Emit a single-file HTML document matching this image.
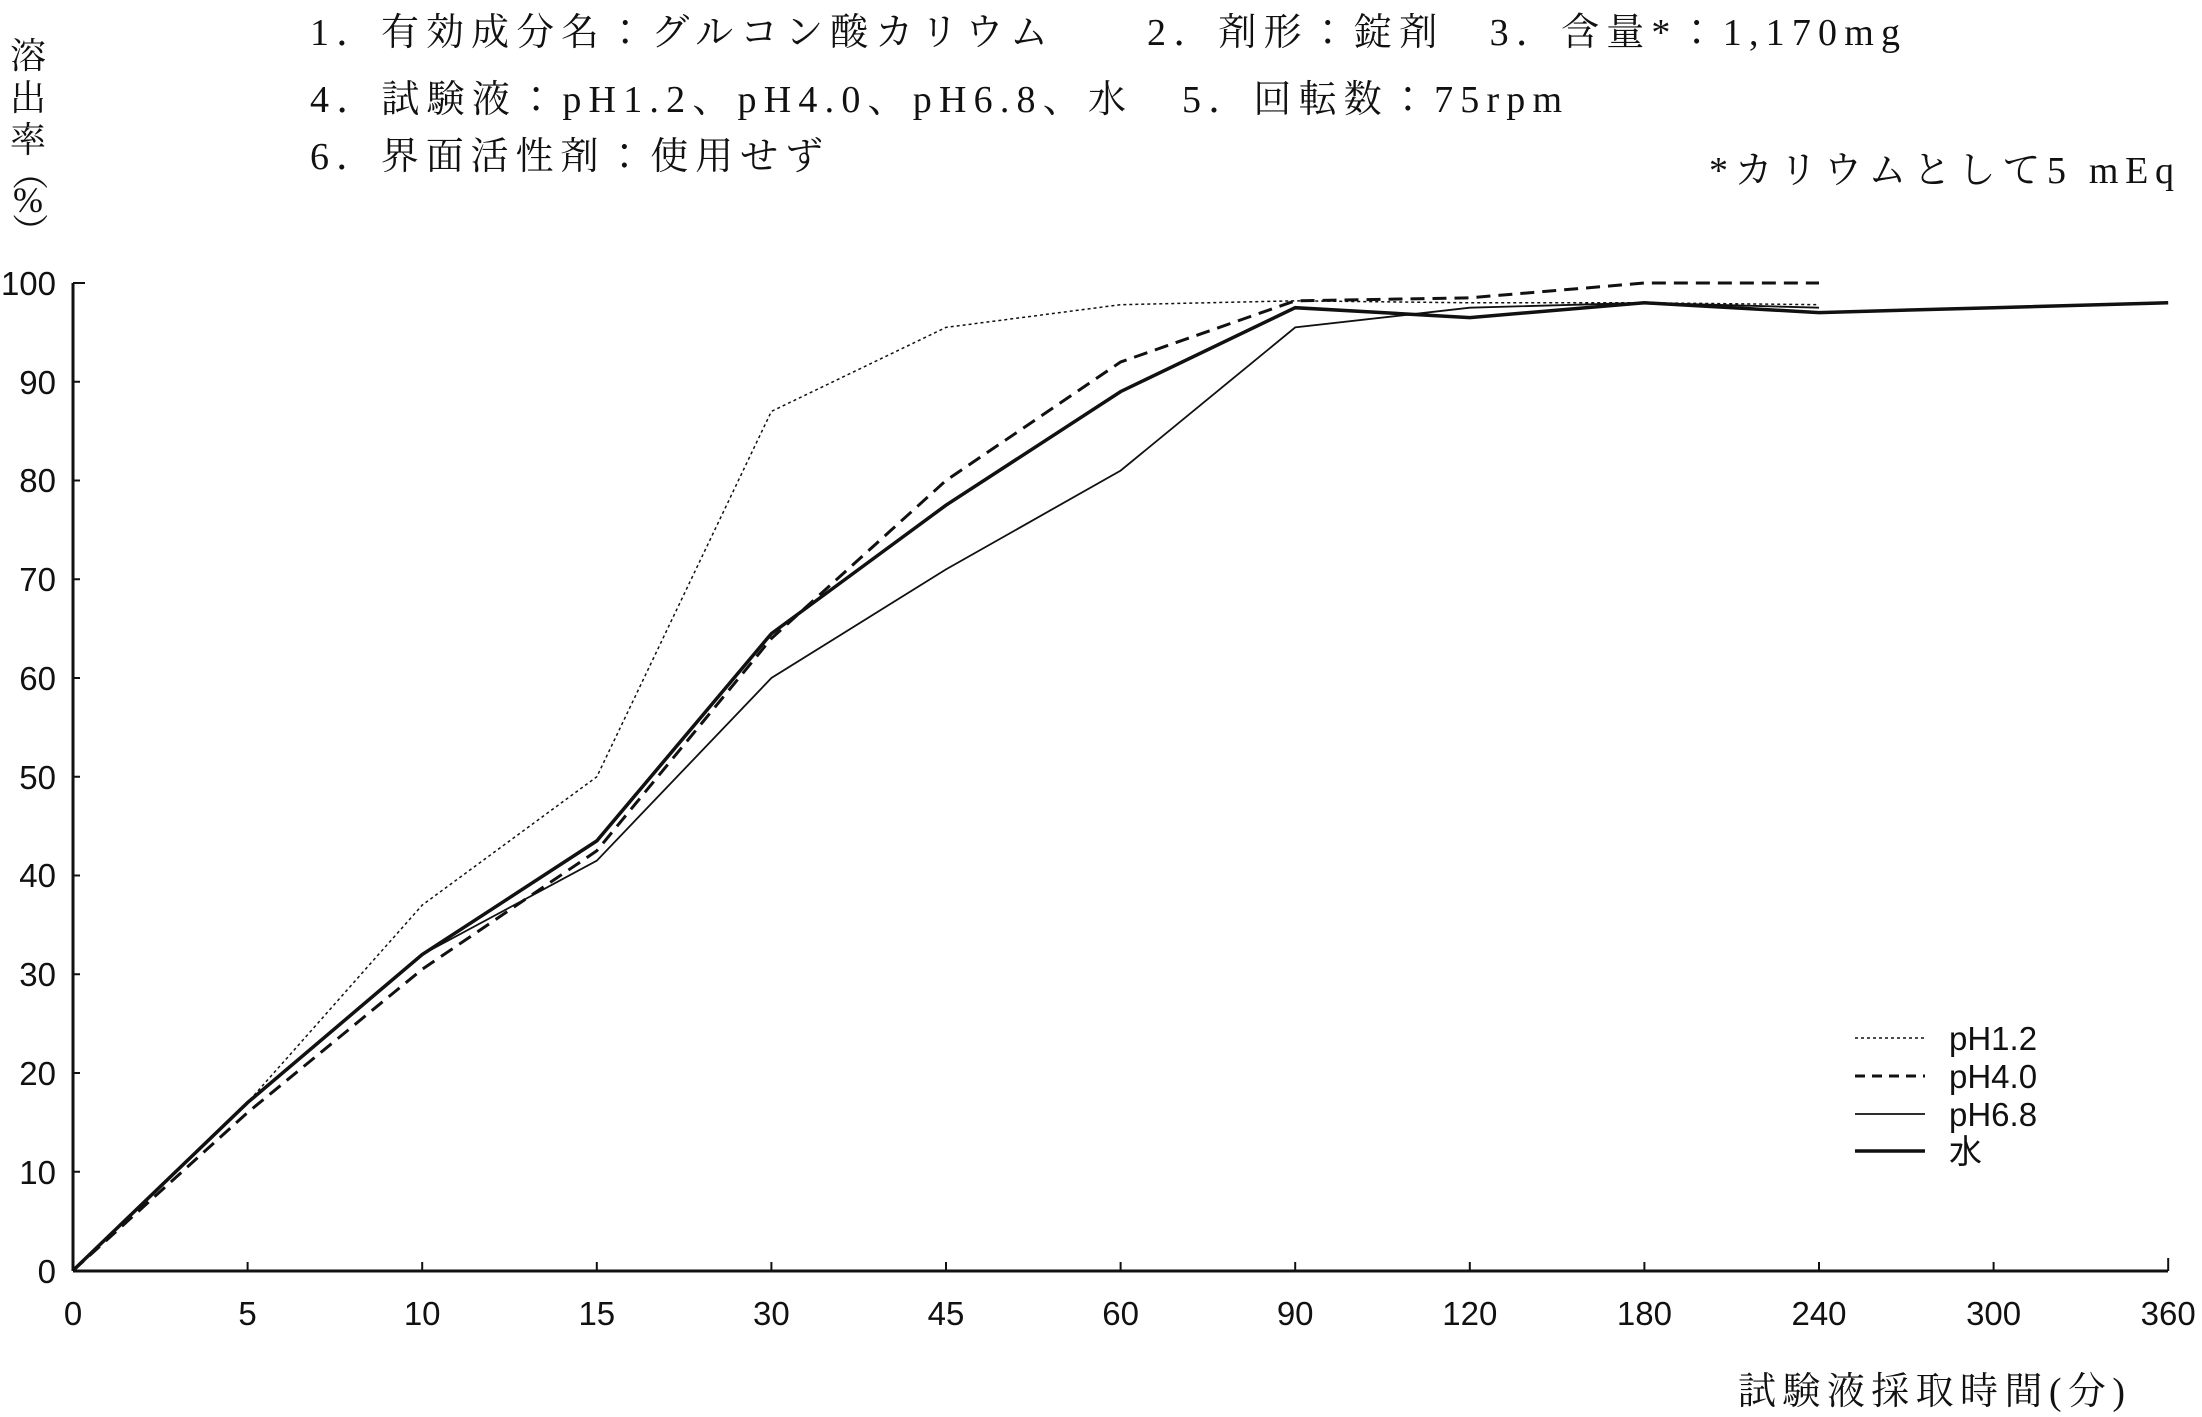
<!DOCTYPE html>
<html><head><meta charset="utf-8"><style>
html,body{margin:0;padding:0;background:#fff;width:2202px;height:1417px;overflow:hidden}
svg{display:block}
.s{font-family:"Liberation Serif","Noto Serif CJK JP",serif;font-size:38px;fill:#111}
.t{font-family:"Liberation Sans","Noto Sans CJK JP",sans-serif;font-size:33px;fill:#111}
</style></head><body>
<svg width="2202" height="1417" viewBox="0 0 2202 1417" xmlns="http://www.w3.org/2000/svg">
<text class="s" x="310" y="45" textLength="738" lengthAdjust="spacing">1．有効成分名：グルコン酸カリウム</text>
<text class="s" x="1147" y="45" textLength="753" lengthAdjust="spacing">2．剤形：錠剤　3．含量*：1,170mg</text>
<text class="s" x="310" y="112" textLength="816" lengthAdjust="spacing">4．試験液：pH1.2、pH4.0、pH6.8、水</text>
<text class="s" x="1182" y="112" textLength="380" lengthAdjust="spacing">5．回転数：75rpm</text>
<text class="s" x="310" y="169" textLength="513" lengthAdjust="spacing">6．界面活性剤：使用せず</text>
<text class="s" x="1709" y="183" textLength="465" lengthAdjust="spacing">*カリウムとして5 mEq</text>
<g class="s" style="font-size:36px" text-anchor="middle">
<text x="28" y="68">溶</text><text x="28" y="110">出</text><text x="28" y="152">率</text>
<text x="28" y="183" transform="rotate(90 28 172)">（</text>
<text x="28" y="212">%</text>
<text x="28" y="242" transform="rotate(90 28 231)">）</text>
</g>
<g stroke="#111" stroke-width="3" fill="none">
<line x1="73" y1="283" x2="73" y2="1271"/>
<line x1="73" y1="1271" x2="2168" y2="1271"/>
</g>
<g stroke="#111" stroke-width="2">
<line x1="73" y1="283" x2="85" y2="283"/><line x1="73" y1="381.75" x2="80" y2="381.75"/><line x1="73" y1="480.5" x2="80" y2="480.5"/><line x1="73" y1="579.25" x2="80" y2="579.25"/><line x1="73" y1="678" x2="80" y2="678"/><line x1="73" y1="776.75" x2="80" y2="776.75"/><line x1="73" y1="875.5" x2="80" y2="875.5"/><line x1="73" y1="974.25" x2="80" y2="974.25"/><line x1="73" y1="1073" x2="80" y2="1073"/><line x1="73" y1="1171.75" x2="80" y2="1171.75"/>
<line x1="247.6" y1="1271" x2="247.6" y2="1262"/><line x1="422.2" y1="1271" x2="422.2" y2="1262"/><line x1="596.8" y1="1271" x2="596.8" y2="1262"/><line x1="771.4" y1="1271" x2="771.4" y2="1262"/><line x1="946" y1="1271" x2="946" y2="1262"/><line x1="1120.6" y1="1271" x2="1120.6" y2="1262"/><line x1="1295.2" y1="1271" x2="1295.2" y2="1262"/><line x1="1469.8" y1="1271" x2="1469.8" y2="1262"/><line x1="1644.4" y1="1271" x2="1644.4" y2="1262"/><line x1="1819" y1="1271" x2="1819" y2="1262"/><line x1="1993.6" y1="1271" x2="1993.6" y2="1262"/><line x1="2168.2" y1="1271" x2="2168.2" y2="1258"/>
</g>
<g class="t" text-anchor="end">
<text x="56" y="295">100</text><text x="56" y="394">90</text><text x="56" y="492">80</text><text x="56" y="591">70</text><text x="56" y="690">60</text><text x="56" y="789">50</text><text x="56" y="887">40</text><text x="56" y="986">30</text><text x="56" y="1085">20</text><text x="56" y="1184">10</text><text x="56" y="1283">0</text>
</g>
<g class="t" text-anchor="middle">
<text x="73" y="1325">0</text><text x="247.6" y="1325">5</text><text x="422.2" y="1325">10</text><text x="596.8" y="1325">15</text><text x="771.4" y="1325">30</text><text x="946" y="1325">45</text><text x="1120.6" y="1325">60</text><text x="1295.2" y="1325">90</text><text x="1469.8" y="1325">120</text><text x="1644.4" y="1325">180</text><text x="1819" y="1325">240</text><text x="1993.6" y="1325">300</text><text x="2168.2" y="1325">360</text>
</g>
<text class="s" x="1738" y="1404" textLength="387" lengthAdjust="spacing">試験液採取時間(分)</text>
<g fill="none" stroke="#111">
<polyline stroke-width="1.5" stroke-dasharray="3,3" points="73,1270.5 247.6,1102.6 422.2,905.1 596.8,776.8 771.4,411.4 946,327.4 1120.6,304.7 1295.2,300.8 1469.8,302.8 1644.4,302.8 1819,304.7"/>
<polyline stroke-width="3" stroke-dasharray="14,8" points="73,1270.5 247.6,1112.5 422.2,969.3 596.8,850.8 771.4,638.5 946,480.5 1120.6,362 1295.2,300.8 1469.8,297.8 1644.4,283 1819,283"/>
<polyline stroke-width="1.8" points="73,1270.5 247.6,1102.6 422.2,954.5 596.8,860.7 771.4,678 946,569.4 1120.6,470.6 1295.2,327.4 1469.8,307.7 1644.4,302.8 1819,307.7"/>
<polyline stroke-width="3.5" points="73,1270.5 247.6,1102.6 422.2,954.5 596.8,840.9 771.4,633.6 946,505.2 1120.6,391.6 1295.2,307.7 1469.8,317.6 1644.4,302.8 1819,312.6 1993.6,307.7 2168.2,302.8"/>
<line x1="1855" y1="1038" x2="1925" y2="1038" stroke-width="1.5" stroke-dasharray="3,3"/>
<line x1="1855" y1="1076" x2="1925" y2="1076" stroke-width="3" stroke-dasharray="10,7"/>
<line x1="1855" y1="1114" x2="1925" y2="1114" stroke-width="1.8"/>
<line x1="1855" y1="1151" x2="1925" y2="1151" stroke-width="3.5"/>
</g>
<g class="t">
<text x="1949" y="1050">pH1.2</text><text x="1949" y="1088">pH4.0</text><text x="1949" y="1126">pH6.8</text><text x="1949" y="1163">水</text>
</g>
</svg>
</body></html>
